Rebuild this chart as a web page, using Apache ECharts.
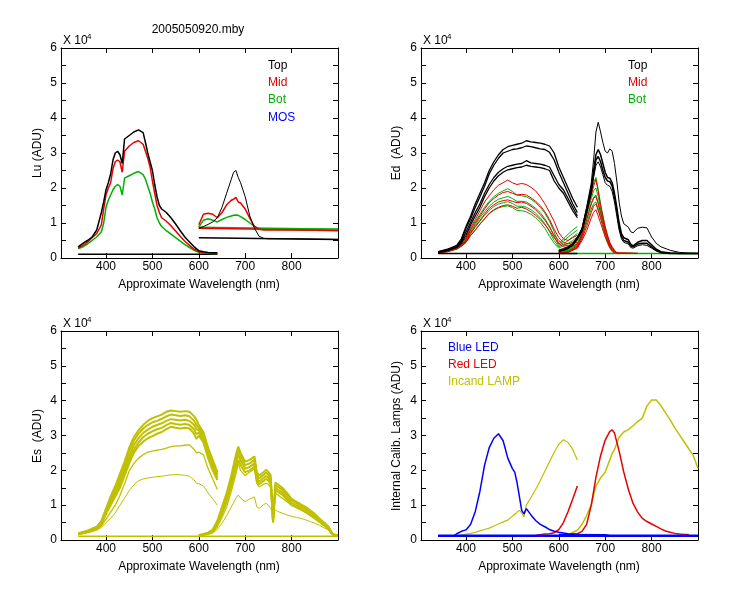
<!DOCTYPE html>
<html>
<head>
<meta charset="utf-8">
<script src="https://cdn.jsdelivr.net/npm/echarts@6.0.0/dist/echarts.min.js"></script>
<style>
  html, body { margin: 0; padding: 0; background: #fff; }
  #chart { width: 750px; height: 600px; }
</style>
</head>
<body>
<div id="chart"></div>
<script>
// ---- data (values in units of 1e4 ADU) ----
// Lu panel
const luX1 = [340, 350, 360, 370, 380, 390, 395, 400, 405, 410, 415, 420, 425, 430, 435, 440, 450, 460, 470, 480, 485, 490, 495, 500, 505, 510, 515, 520, 530, 540, 550, 560, 570, 580, 590, 600, 610, 620, 630, 640];
const luTop1 = [0.32, 0.42, 0.5, 0.6, 0.8, 1.3, 1.6, 1.95, 2.15, 2.4, 2.8, 3.0, 3.05, 2.95, 2.7, 3.4, 3.5, 3.6, 3.66, 3.58, 3.3, 3.0, 2.75, 2.5, 2.1, 1.75, 1.5, 1.4, 1.3, 1.15, 0.97, 0.78, 0.6, 0.46, 0.32, 0.21, 0.18, 0.16, 0.15, 0.15];
const luMid1 = [0.28, 0.36, 0.45, 0.58, 0.7, 0.95, 1.4, 1.8, 2.0, 2.15, 2.55, 2.75, 2.8, 2.75, 2.45, 3.05, 3.2, 3.3, 3.35, 3.25, 3.05, 2.85, 2.6, 2.2, 1.85, 1.5, 1.3, 1.15, 1.05, 0.92, 0.77, 0.62, 0.48, 0.36, 0.25, 0.18, 0.15, 0.14, 0.13, 0.13];
const luBot1 = [0.26, 0.32, 0.4, 0.5, 0.6, 0.75, 1.0, 1.45, 1.65, 1.8, 1.95, 2.05, 2.1, 2.05, 1.8, 2.28, 2.35, 2.42, 2.47, 2.38, 2.25, 2.05, 1.85, 1.6, 1.4, 1.15, 1.0, 0.9, 0.78, 0.68, 0.58, 0.48, 0.38, 0.3, 0.22, 0.16, 0.14, 0.13, 0.13, 0.13];
const luX2 = [600, 610, 620, 630, 640, 650, 660, 670, 675, 680, 685, 690, 700, 710, 720, 730, 740, 750, 800, 850, 900];
const luTop2 = [0.85, 0.9, 0.96, 1.03, 1.15, 1.45, 1.85, 2.25, 2.45, 2.5, 2.3, 2.15, 1.75, 1.2, 0.85, 0.62, 0.56, 0.55, 0.55, 0.54, 0.53];
const luMid2 = [0.95, 1.25, 1.28, 1.25, 1.15, 1.3, 1.52, 1.65, 1.68, 1.73, 1.6, 1.57, 1.4, 1.13, 0.9, 0.82, 0.8, 0.8, 0.8, 0.79, 0.78];
const luBot2 = [0.88, 1.08, 1.12, 1.08, 1.03, 1.1, 1.16, 1.2, 1.22, 1.23, 1.22, 1.18, 1.1, 1.0, 0.9, 0.84, 0.83, 0.83, 0.83, 0.82, 0.82];
const baseX1 = [340, 640];
const baseX2 = [600, 900];
const luBase1 = [0.11, 0.11];
const luTopBase2 = [0.58, 0.53];
const luMidBase2 = [0.85, 0.79];
const luBotBase2 = [0.88, 0.82];

// Ed panel
const edX1 = [340, 360, 380, 390, 400, 410, 420, 430, 440, 450, 460, 470, 480, 490, 500, 510, 520, 530, 540, 550, 560, 570, 580, 590, 600, 610, 620, 630, 640];
const edTopA1 = [0.18, 0.25, 0.36, 0.55, 0.9, 1.2, 1.55, 1.85, 2.15, 2.5, 2.75, 2.95, 3.1, 3.18, 3.22, 3.25, 3.28, 3.35, 3.32, 3.3, 3.28, 3.25, 3.2, 3.0, 2.6, 2.3, 2.0, 1.7, 1.45];
const edTopB1 = [0.17, 0.24, 0.34, 0.5, 0.85, 1.12, 1.45, 1.75, 2.05, 2.4, 2.65, 2.85, 3.0, 3.05, 3.1, 3.12, 3.15, 3.2, 3.18, 3.15, 3.12, 3.1, 3.02, 2.8, 2.45, 2.15, 1.85, 1.55, 1.3];
const edTopC1 = [0.16, 0.22, 0.32, 0.45, 0.75, 1.02, 1.3, 1.55, 1.85, 2.1, 2.3, 2.45, 2.55, 2.62, 2.65, 2.68, 2.7, 2.78, 2.72, 2.7, 2.68, 2.65, 2.6, 2.35, 2.1, 1.95, 1.7, 1.45, 1.2];
const edTopD1 = [0.16, 0.21, 0.3, 0.42, 0.65, 0.95, 1.2, 1.45, 1.75, 2.0, 2.2, 2.35, 2.45, 2.52, 2.55, 2.58, 2.6, 2.65, 2.62, 2.6, 2.58, 2.55, 2.5, 2.2, 2.0, 1.85, 1.6, 1.35, 1.15];
const edMidA1 = [0.15, 0.2, 0.3, 0.42, 0.58, 0.88, 1.1, 1.35, 1.6, 1.78, 1.95, 2.08, 2.15, 2.23, 2.15, 2.1, 2.13, 2.1, 2.02, 1.92, 1.75, 1.55, 1.3, 1.05, 0.72, 0.55, 0.5, 0.58, 0.65];
const edMidB1 = [0.15, 0.2, 0.28, 0.38, 0.52, 0.8, 1.0, 1.2, 1.4, 1.58, 1.7, 1.8, 1.87, 1.9, 1.85, 1.8, 1.82, 1.8, 1.72, 1.62, 1.5, 1.32, 1.1, 0.82, 0.58, 0.45, 0.4, 0.45, 0.5];
const edMidC1 = [0.14, 0.19, 0.27, 0.36, 0.48, 0.72, 0.9, 1.08, 1.25, 1.42, 1.52, 1.6, 1.64, 1.66, 1.62, 1.58, 1.6, 1.56, 1.48, 1.38, 1.24, 1.08, 0.88, 0.65, 0.5, 0.38, 0.35, 0.4, 0.45];
const edMidD1 = [0.14, 0.18, 0.26, 0.34, 0.45, 0.65, 0.8, 0.97, 1.12, 1.28, 1.38, 1.45, 1.5, 1.52, 1.48, 1.42, 1.45, 1.4, 1.32, 1.22, 1.1, 0.95, 0.78, 0.58, 0.42, 0.32, 0.3, 0.35, 0.4];
const edBotA1 = [0.15, 0.2, 0.28, 0.38, 0.55, 0.82, 1.05, 1.25, 1.45, 1.62, 1.75, 1.85, 1.92, 1.98, 1.9, 1.8, 1.78, 1.75, 1.68, 1.58, 1.45, 1.28, 1.05, 0.75, 0.4, 0.55, 0.68, 0.8, 0.9];
const edBotB1 = [0.15, 0.2, 0.27, 0.36, 0.5, 0.75, 0.95, 1.15, 1.32, 1.48, 1.6, 1.68, 1.72, 1.76, 1.7, 1.62, 1.62, 1.6, 1.52, 1.42, 1.3, 1.12, 0.9, 0.62, 0.35, 0.48, 0.6, 0.7, 0.8];
const edBotC1 = [0.14, 0.19, 0.26, 0.35, 0.47, 0.7, 0.88, 1.05, 1.22, 1.36, 1.47, 1.54, 1.58, 1.61, 1.56, 1.48, 1.48, 1.45, 1.38, 1.28, 1.15, 0.98, 0.75, 0.5, 0.32, 0.4, 0.5, 0.6, 0.7];
const edBotD1 = [0.14, 0.18, 0.25, 0.33, 0.44, 0.64, 0.8, 0.96, 1.12, 1.26, 1.36, 1.43, 1.47, 1.49, 1.44, 1.36, 1.35, 1.32, 1.25, 1.15, 1.02, 0.85, 0.62, 0.42, 0.28, 0.35, 0.42, 0.5, 0.6];
const edX2 = [600, 610, 620, 630, 640, 650, 660, 670, 675, 680, 685, 690, 695, 700, 705, 710, 715, 720, 725, 730, 735, 740, 750, 755, 760, 770, 780, 790, 800, 810, 820, 840, 860, 880, 900];
const edTopA2 = [0.23, 0.27, 0.32, 0.42, 0.6, 0.85, 1.45, 2.15, 2.8, 3.6, 3.88, 3.6, 3.3, 3.05, 3.0, 3.12, 3.05, 2.7, 2.2, 1.6, 1.2, 0.98, 0.88, 0.75, 0.72, 0.85, 0.88, 0.86, 0.6, 0.42, 0.32, 0.22, 0.16, 0.14, 0.13];
const edTopB2 = [0.2, 0.24, 0.3, 0.4, 0.58, 0.82, 1.4, 2.0, 2.5, 2.95, 3.1, 2.95, 2.7, 2.45, 2.3, 2.28, 2.15, 1.85, 1.45, 1.0, 0.7, 0.58, 0.52, 0.4, 0.35, 0.45, 0.5, 0.5, 0.38, 0.25, 0.18, 0.14, 0.13, 0.13, 0.13];
const edTopC2 = [0.2, 0.23, 0.28, 0.38, 0.55, 0.8, 1.35, 1.95, 2.4, 2.8, 2.9, 2.75, 2.5, 2.3, 2.2, 2.18, 2.05, 1.75, 1.35, 0.9, 0.62, 0.5, 0.45, 0.35, 0.32, 0.4, 0.42, 0.42, 0.32, 0.22, 0.16, 0.13, 0.13, 0.13, 0.13];
const edTopD2 = [0.19, 0.22, 0.27, 0.36, 0.52, 0.76, 1.28, 1.85, 2.3, 2.65, 2.75, 2.6, 2.38, 2.15, 2.08, 2.05, 1.9, 1.6, 1.2, 0.8, 0.55, 0.45, 0.4, 0.3, 0.28, 0.35, 0.38, 0.36, 0.28, 0.2, 0.15, 0.13, 0.13, 0.13, 0.13];
const edX2s = [600, 620, 640, 650, 660, 670, 675, 680, 685, 690, 695, 700, 705, 710, 715, 720, 725, 730, 770];
const edMidA2 = [0.15, 0.18, 0.35, 0.7, 1.3, 1.8, 2.05, 2.25, 1.9, 1.5, 1.2, 0.9, 0.65, 0.45, 0.32, 0.22, 0.16, 0.14, 0.13];
const edMidB2 = [0.15, 0.17, 0.32, 0.62, 1.1, 1.55, 1.72, 1.75, 1.55, 1.3, 1.08, 0.85, 0.62, 0.42, 0.3, 0.2, 0.15, 0.14, 0.13];
const edMidC2 = [0.14, 0.16, 0.3, 0.55, 0.9, 1.3, 1.48, 1.55, 1.35, 1.15, 0.95, 0.72, 0.52, 0.35, 0.25, 0.18, 0.15, 0.14, 0.13];
const edMidD2 = [0.14, 0.16, 0.28, 0.5, 0.78, 1.15, 1.3, 1.38, 1.2, 1.0, 0.8, 0.6, 0.45, 0.3, 0.22, 0.16, 0.14, 0.13, 0.13];
const edBotA2 = [0.2, 0.25, 0.42, 0.75, 1.3, 1.85, 2.15, 2.3, 1.95, 1.55, 1.2, 0.85, 0.6, 0.4, 0.25, 0.16, 0.14, 0.13, 0.13];
const edBotB2 = [0.18, 0.23, 0.4, 0.7, 1.2, 1.7, 1.92, 2.0, 1.75, 1.4, 1.08, 0.78, 0.55, 0.36, 0.22, 0.15, 0.14, 0.13, 0.13];
const edBotC2 = [0.17, 0.22, 0.38, 0.66, 1.1, 1.55, 1.72, 1.8, 1.58, 1.28, 0.98, 0.7, 0.48, 0.32, 0.2, 0.15, 0.13, 0.13, 0.13];
const edBotD2 = [0.16, 0.2, 0.35, 0.6, 1.0, 1.4, 1.55, 1.6, 1.42, 1.15, 0.88, 0.62, 0.42, 0.28, 0.18, 0.14, 0.13, 0.13, 0.13];
const edBase1 = [0.13, 0.13];
const edBase2 = [0.13, 0.13];

// Es panel
const esX1 = [340, 360, 380, 390, 400, 410, 420, 430, 440, 450, 460, 470, 480, 490, 500, 510, 520, 530, 540, 550, 560, 570, 580, 590, 595, 600, 610, 620, 630, 640];
const esA1 = [0.19, 0.27, 0.38, 0.55, 0.9, 1.25, 1.55, 1.9, 2.25, 2.65, 2.95, 3.15, 3.3, 3.42, 3.5, 3.55, 3.6, 3.68, 3.72, 3.7, 3.68, 3.7, 3.68, 3.55, 3.45, 3.3, 3.1, 2.65, 2.3, 1.95];
const esB1 = [0.19, 0.26, 0.36, 0.52, 0.85, 1.18, 1.47, 1.8, 2.15, 2.55, 2.85, 3.05, 3.2, 3.3, 3.38, 3.42, 3.48, 3.55, 3.6, 3.58, 3.56, 3.58, 3.55, 3.42, 3.3, 3.22, 3.02, 2.58, 2.22, 1.9];
const esC1 = [0.18, 0.25, 0.35, 0.5, 0.8, 1.1, 1.38, 1.7, 2.05, 2.42, 2.72, 2.92, 3.07, 3.17, 3.25, 3.3, 3.35, 3.42, 3.47, 3.45, 3.43, 3.45, 3.42, 3.3, 3.18, 3.15, 2.95, 2.5, 2.15, 1.85];
const esD1 = [0.18, 0.24, 0.34, 0.48, 0.78, 1.05, 1.3, 1.6, 1.95, 2.3, 2.6, 2.8, 2.95, 3.05, 3.12, 3.18, 3.22, 3.3, 3.36, 3.33, 3.31, 3.33, 3.3, 3.17, 3.04, 3.08, 2.88, 2.42, 2.08, 1.78];
const esE1 = [0.17, 0.23, 0.33, 0.45, 0.75, 1.0, 1.25, 1.5, 1.85, 2.2, 2.5, 2.7, 2.82, 2.92, 2.98, 3.05, 3.1, 3.18, 3.25, 3.22, 3.2, 3.22, 3.2, 3.05, 2.9, 3.0, 2.8, 2.35, 2.0, 1.72];
const esF1 = [0.16, 0.22, 0.3, 0.4, 0.6, 0.8, 1.0, 1.28, 1.62, 1.98, 2.2, 2.35, 2.45, 2.52, 2.55, 2.58, 2.6, 2.64, 2.68, 2.7, 2.7, 2.72, 2.73, 2.6, 2.5, 2.52, 2.45, 2.05, 1.75, 1.45];
const esG1 = [0.15, 0.2, 0.28, 0.36, 0.5, 0.62, 0.78, 1.0, 1.2, 1.42, 1.58, 1.7, 1.75, 1.78, 1.8, 1.82, 1.83, 1.85, 1.87, 1.88, 1.87, 1.86, 1.83, 1.72, 1.63, 1.62, 1.55, 1.35, 1.18, 1.0];
const esX2 = [600, 610, 620, 630, 640, 650, 660, 670, 680, 685, 690, 700, 710, 720, 725, 730, 740, 745, 750, 755, 760, 765, 770, 780, 790, 800, 810, 820, 830, 840, 850, 860, 870, 880, 885, 890, 900];
const esA2 = [0.14, 0.17, 0.21, 0.3, 0.55, 0.95, 1.35, 1.85, 2.45, 2.68, 2.5, 2.25, 2.3, 2.4, 1.95, 1.85, 1.95, 2.02, 1.95, 1.85, 0.5, 1.65, 1.6, 1.5, 1.35, 1.18, 1.1, 1.02, 0.95, 0.85, 0.75, 0.62, 0.5, 0.38, 0.25, 0.16, 0.14];
const esB2 = [0.14, 0.16, 0.2, 0.28, 0.5, 0.88, 1.27, 1.75, 2.33, 2.58, 2.4, 2.15, 2.2, 2.3, 1.87, 1.77, 1.87, 1.93, 1.87, 1.77, 0.52, 1.58, 1.53, 1.44, 1.3, 1.13, 1.06, 0.98, 0.9, 0.81, 0.71, 0.59, 0.48, 0.35, 0.23, 0.16, 0.14];
const esC2 = [0.13, 0.16, 0.19, 0.26, 0.46, 0.8, 1.18, 1.65, 2.2, 2.45, 2.28, 2.05, 2.1, 2.2, 1.78, 1.68, 1.78, 1.84, 1.78, 1.68, 0.55, 1.5, 1.45, 1.37, 1.22, 1.06, 1.0, 0.92, 0.85, 0.76, 0.66, 0.55, 0.45, 0.32, 0.21, 0.15, 0.14];
const esE2 = [0.13, 0.15, 0.18, 0.24, 0.42, 0.75, 1.1, 1.55, 2.05, 2.3, 2.15, 1.95, 2.0, 2.1, 1.7, 1.6, 1.7, 1.75, 1.7, 1.6, 0.55, 1.42, 1.38, 1.3, 1.15, 1.0, 0.95, 0.88, 0.8, 0.72, 0.62, 0.52, 0.42, 0.3, 0.2, 0.15, 0.14];
const esF2 = [0.13, 0.15, 0.17, 0.22, 0.38, 0.65, 0.95, 1.4, 1.9, 2.2, 2.0, 1.85, 1.95, 2.05, 1.62, 1.53, 1.6, 1.63, 1.6, 1.5, 0.8, 1.34, 1.3, 1.2, 1.1, 1.0, 0.93, 0.86, 0.8, 0.7, 0.62, 0.52, 0.42, 0.3, 0.2, 0.15, 0.14];
const esG2 = [0.12, 0.14, 0.16, 0.2, 0.3, 0.48, 0.7, 0.95, 1.2, 1.29, 1.2, 1.1, 1.18, 1.24, 0.95, 0.91, 1.02, 1.05, 1.0, 0.9, 0.77, 0.86, 0.82, 0.77, 0.72, 0.68, 0.65, 0.62, 0.58, 0.53, 0.48, 0.42, 0.35, 0.28, 0.2, 0.15, 0.14];
const esBaseX = [340, 900];
const esBase = [0.11, 0.11];

// Internal calibration lamps panel
const lampX1 = [340, 360, 375, 380, 390, 400, 410, 420, 430, 440, 450, 460, 470, 480, 490, 500, 505, 510, 515, 520, 525, 530, 540, 550, 560, 570, 580, 590, 600, 610, 620, 630, 640];
const blueLed1 = [0.12, 0.12, 0.13, 0.18, 0.25, 0.29, 0.45, 0.82, 1.4, 2.15, 2.65, 2.92, 3.05, 2.85, 2.35, 2.05, 1.95, 1.65, 1.25, 0.85, 0.75, 0.9, 0.72, 0.56, 0.45, 0.38, 0.3, 0.25, 0.22, 0.2, 0.18, 0.17, 0.16];
const redLed1 = [0.12, 0.12, 0.12, 0.12, 0.12, 0.12, 0.12, 0.12, 0.12, 0.12, 0.12, 0.12, 0.12, 0.12, 0.12, 0.12, 0.12, 0.12, 0.12, 0.12, 0.12, 0.12, 0.12, 0.13, 0.15, 0.17, 0.18, 0.21, 0.3, 0.5, 0.82, 1.18, 1.55];
const incand1 = [0.12, 0.12, 0.12, 0.12, 0.14, 0.17, 0.19, 0.22, 0.26, 0.3, 0.34, 0.4, 0.46, 0.52, 0.57, 0.68, 0.74, 0.8, 0.85, 0.78, 0.67, 1.0, 1.22, 1.45, 1.7, 1.98, 2.25, 2.52, 2.75, 2.88, 2.8, 2.6, 2.3];
const lampX2 = [600, 620, 640, 650, 660, 670, 680, 690, 700, 710, 715, 720, 730, 740, 750, 760, 770, 780, 790, 800, 810, 820, 830, 840, 850, 860, 870, 880, 890, 900];
const redLed2 = [0.14, 0.15, 0.18, 0.25, 0.45, 1.0, 1.8, 2.42, 2.87, 3.12, 3.16, 3.07, 2.55, 1.95, 1.45, 1.05, 0.8, 0.62, 0.53, 0.46, 0.39, 0.32, 0.26, 0.22, 0.19, 0.17, 0.16, 0.16, null, null];
const incand2 = [0.12, 0.15, 0.28, 0.45, 0.7, 1.02, 1.55, 1.78, 1.95, 2.3, 2.48, 2.6, 2.95, 3.1, 3.17, 3.28, 3.4, 3.5, 3.85, 4.02, 4.02, 3.86, 3.65, 3.45, 3.22, 3.02, 2.82, 2.62, 2.42, 2.05];
const blueX2 = [600, 700, 710];
const blueLed2 = [0.16, 0.15, 0.12];
const lampBaseX = [340, 900];
const blueBase = [0.12, 0.12];

// axis ticks / labels
const xTicks = [400, 500, 600, 700, 800];
const yLabels = [0, 1, 2, 3, 4, 5, 6];
const yTicks = [0, 0.5, 1, 1.5, 2, 2.5, 3, 3.5, 4, 4.5, 5, 5.5, 6];

const BLACK = '#000000';
const RED = '#e60000';
const GREEN = '#00b000';
const BLUE = '#0000ff';
const YELLOW = '#c0c000';
const FONT = 'Arial, "Liberation Sans", sans-serif';

const grids = [
  { left: 61, top: 48, width: 277, height: 210 },
  { left: 421, top: 48, width: 277, height: 210 },
  { left: 61, top: 331, width: 277, height: 209 },
  { left: 421, top: 331, width: 277, height: 209 }
];

const xAxes = [];
const yAxes = [];
grids.forEach(function (g, i) {
  ['bottom', 'top'].forEach(function (pos) {
    xAxes.push({
      gridIndex: i, type: 'value', min: 303, max: 900, position: pos,
      axisLine: { onZero: false, lineStyle: { color: '#000', width: 1 } },
      axisTick: { inside: true, length: 5, customValues: xTicks, lineStyle: { color: '#000' } },
      axisLabel: { show: pos === 'bottom', customValues: xTicks, color: '#000', fontSize: 12, fontFamily: FONT, margin: 3 },
      splitLine: { show: false }
    });
  });
  ['left', 'right'].forEach(function (pos) {
    yAxes.push({
      gridIndex: i, type: 'value', min: 0, max: 6, position: pos,
      axisLine: { show: true, onZero: false, lineStyle: { color: '#000', width: 1 } },
      axisTick: { show: true, inside: true, length: 5, customValues: yTicks, lineStyle: { color: '#000' } },
      axisLabel: { show: pos === 'left', customValues: yLabels, color: '#000', fontSize: 12, fontFamily: FONT, margin: 4 },
      splitLine: { show: false }
    });
  });
});

// one line series on panel g
function seg(g, xs, ys, color, width) {
  return {
    type: 'line', xAxisIndex: g * 2, yAxisIndex: g * 2,
    data: xs.map(function (x, i) { return [x, ys[i]]; }).filter(function (p) { return p[1] !== null; }),
    symbol: 'none', silent: true,
    lineStyle: { color: color, width: width || 1 }
  };
}

const series = [
  // Lu
  seg(0, baseX1, luBase1, BLACK, 1.5),
  seg(0, baseX2, luTopBase2, BLACK, 1.5),
  seg(0, baseX2, luBotBase2, GREEN, 1.5),
  seg(0, baseX2, luMidBase2, RED, 1.5),
  seg(0, luX1, luBot1, GREEN, 1.5),
  seg(0, luX1, luMid1, RED, 1.5),
  seg(0, luX1, luTop1, BLACK, 1.5),
  seg(0, luX2, luBot2, GREEN, 1.5),
  seg(0, luX2, luMid2, RED, 1.5),
  seg(0, luX2, luTop2, BLACK, 1),
  // Ed
  seg(1, baseX2, edBase2, GREEN, 1.5),
  seg(1, edX1, edBotA1, GREEN), seg(1, edX1, edBotB1, GREEN), seg(1, edX1, edBotC1, GREEN), seg(1, edX1, edBotD1, GREEN),
  seg(1, edX2s, edBotA2, GREEN), seg(1, edX2s, edBotB2, GREEN), seg(1, edX2s, edBotC2, GREEN), seg(1, edX2s, edBotD2, GREEN),
  seg(1, edX1, edMidA1, RED), seg(1, edX1, edMidB1, RED), seg(1, edX1, edMidC1, RED), seg(1, edX1, edMidD1, RED),
  seg(1, edX2s, edMidA2, RED), seg(1, edX2s, edMidB2, RED), seg(1, edX2s, edMidC2, RED), seg(1, edX2s, edMidD2, RED),
  seg(1, baseX1, edBase1, BLACK, 1.5),
  seg(1, edX1, edTopA1, BLACK, 1.3), seg(1, edX1, edTopB1, BLACK, 1.3), seg(1, edX1, edTopC1, BLACK, 1.3), seg(1, edX1, edTopD1, BLACK, 1.3),
  seg(1, edX2, edTopA2, BLACK), seg(1, edX2, edTopB2, BLACK, 1.5), seg(1, edX2, edTopC2, BLACK, 1.5), seg(1, edX2, edTopD2, BLACK),
  // Es
  seg(2, esBaseX, esBase, YELLOW, 1.5),
  seg(2, esX1, esG1, YELLOW), seg(2, esX1, esF1, YELLOW, 1.3),
  seg(2, esX1, esE1, YELLOW, 2), seg(2, esX1, esD1, YELLOW, 2), seg(2, esX1, esC1, YELLOW, 2), seg(2, esX1, esB1, YELLOW, 2), seg(2, esX1, esA1, YELLOW, 2),
  seg(2, esX2, esG2, YELLOW), seg(2, esX2, esF2, YELLOW, 1.3),
  seg(2, esX2, esE2, YELLOW, 2), seg(2, esX2, esC2, YELLOW, 2), seg(2, esX2, esB2, YELLOW, 2), seg(2, esX2, esA2, YELLOW, 2),
  // Lamps
  seg(3, lampX1, incand1, YELLOW, 1.2),
  seg(3, lampX2, incand2, YELLOW, 1.5),
  seg(3, lampX1, redLed1, RED, 1.5),
  seg(3, lampX2, redLed2, RED, 1.5),
  seg(3, lampX1, blueLed1, BLUE, 1.5),
  seg(3, blueX2, blueLed2, BLUE, 1.5),
  seg(3, lampBaseX, blueBase, BLUE, 2.5)
];

function txt(x, y, text, color, size, rot, align) {
  return {
    type: 'text', x: x, y: y, rotation: rot || 0, silent: true,
    style: {
      text: text, fill: color || '#000', font: (size || 12) + 'px ' + FONT,
      align: align || 'center', verticalAlign: 'middle',
      textAlign: align || 'center', textVerticalAlign: 'middle'
    }
  };
}

const graphics = [
  txt(198, 30, '2005050920.mby'),
  // exponent markers
  txt(63, 41, 'X 10', '#000', 12, 0, 'left'), txt(87, 37, '4', '#000', 8, 0, 'left'),
  txt(423, 41, 'X 10', '#000', 12, 0, 'left'), txt(447, 37, '4', '#000', 8, 0, 'left'),
  txt(63, 324, 'X 10', '#000', 12, 0, 'left'), txt(87, 320, '4', '#000', 8, 0, 'left'),
  txt(423, 324, 'X 10', '#000', 12, 0, 'left'), txt(447, 320, '4', '#000', 8, 0, 'left'),
  // axis titles
  txt(38, 153, 'Lu (ADU)', '#000', 12, Math.PI / 2),
  txt(397, 153, 'Ed  (ADU)', '#000', 12, Math.PI / 2),
  txt(38, 436, 'Es  (ADU)', '#000', 12, Math.PI / 2),
  txt(397, 436, 'Internal Calib. Lamps (ADU)', '#000', 12, Math.PI / 2),
  txt(199, 285, 'Approximate Wavelength (nm)'),
  txt(559, 285, 'Approximate Wavelength (nm)'),
  txt(199, 567, 'Approximate Wavelength (nm)'),
  txt(559, 567, 'Approximate Wavelength (nm)'),
  // legends
  txt(268, 66, 'Top', BLACK, 12, 0, 'left'),
  txt(268, 83, 'Mid', RED, 12, 0, 'left'),
  txt(268, 100, 'Bot', GREEN, 12, 0, 'left'),
  txt(268, 118, 'MOS', BLUE, 12, 0, 'left'),
  txt(628, 66, 'Top', BLACK, 12, 0, 'left'),
  txt(628, 83, 'Mid', RED, 12, 0, 'left'),
  txt(628, 100, 'Bot', GREEN, 12, 0, 'left'),
  txt(448, 348, 'Blue LED', BLUE, 12, 0, 'left'),
  txt(448, 365, 'Red LED', RED, 12, 0, 'left'),
  txt(448, 382, 'Incand LAMP', YELLOW, 12, 0, 'left')
];

const chart = echarts.init(document.getElementById('chart'));
chart.setOption({
  animation: false,
  backgroundColor: '#fff',
  textStyle: { fontFamily: FONT },
  grid: grids,
  xAxis: xAxes,
  yAxis: yAxes,
  series: series,
  graphic: { elements: graphics }
});
</script>
</body>
</html>
